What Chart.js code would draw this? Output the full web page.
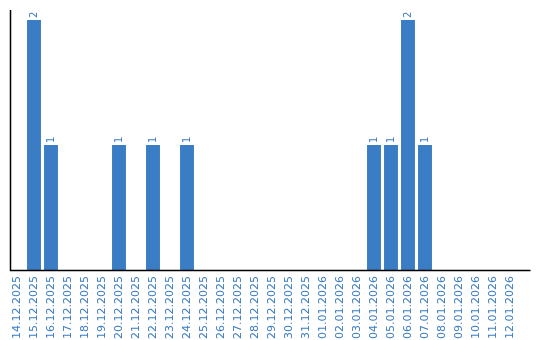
<!DOCTYPE html>
<html>
<head>
<meta charset="utf-8">
<script src="https://cdn.jsdelivr.net/npm/chart.js@4"></script>
<style>
  html, body { margin: 0; padding: 0; background: #fff; }
  #wrap { width: 540px; height: 340px; }
</style>
</head>
<body>
<div id="wrap"><canvas id="chart"></canvas></div>
<script>
// dates
const labels = [
  "14.12.2025", "15.12.2025", "16.12.2025", "17.12.2025", "18.12.2025",
  "19.12.2025", "20.12.2025", "21.12.2025", "22.12.2025", "23.12.2025",
  "24.12.2025", "25.12.2025", "26.12.2025", "27.12.2025", "28.12.2025",
  "29.12.2025", "30.12.2025", "31.12.2025", "01.01.2026", "02.01.2026",
  "03.01.2026", "04.01.2026", "05.01.2026", "06.01.2026", "07.01.2026",
  "08.01.2026", "09.01.2026", "10.01.2026", "11.01.2026", "12.01.2026"
];
// counts per day
const counts = [
  0, 2, 1, 0, 0, 0, 1, 0, 1, 0,
  1, 0, 0, 0, 0, 0, 0, 0, 0, 0,
  0, 1, 1, 2, 1, 0, 0, 0, 0, 0
];

const blue = "#3b7dc4";

// value labels above bars, rotated
const valueLabels = {
  id: "valueLabels",
  afterDatasetsDraw(chart) {
    const ctx = chart.ctx;
    const meta = chart.getDatasetMeta(0);
    ctx.save();
    ctx.fillStyle = blue;
    ctx.font = "10px 'DejaVu Sans'";
    ctx.textAlign = "left";
    ctx.textBaseline = "middle";
    meta.data.forEach((bar, i) => {
      if (!counts[i]) return;
      ctx.save();
      ctx.translate(bar.x, bar.y - 2);
      ctx.rotate(-Math.PI / 2);
      ctx.fillText(String(counts[i]), 0, 0);
      ctx.restore();
    });
    ctx.restore();
  }
};

// axis lines (the x line runs a bit past the last day)
const axisLines = {
  id: "axisLines",
  afterDraw(chart) {
    const a = chart.chartArea;
    const ctx = chart.ctx;
    const x0 = Math.round(a.left + 1.5) + 0.5;
    const y0 = Math.round(a.bottom) + 0.5;
    ctx.save();
    ctx.strokeStyle = "#000";
    ctx.lineWidth = 1.5;
    ctx.beginPath();
    ctx.moveTo(x0, a.top);
    ctx.lineTo(x0, y0);
    ctx.lineTo(a.right + 12, y0);
    ctx.stroke();
    ctx.restore();
  }
};

new Chart(document.getElementById("chart"), {
  type: "bar",
  data: {
    labels: labels,
    datasets: [{
      data: counts,
      backgroundColor: blue,
      borderWidth: 0,
      categoryPercentage: 1,
      barPercentage: 0.82
    }]
  },
  options: {
    responsive: true,
    maintainAspectRatio: false,
    animation: false,
    layout: { padding: { left: 8.5, right: 21.5, top: 10, bottom: -5 } },
    plugins: {
      legend: { display: false },
      tooltip: { enabled: false }
    },
    scales: {
      x: {
        grid: { display: false, drawTicks: false },
        border: { display: false },
        ticks: {
          color: blue,
          font: { family: "DejaVu Sans", size: 11 },
          minRotation: 90,
          maxRotation: 90,
          autoSkip: false,
          padding: 6
        }
      },
      y: {
        display: false,
        min: 0,
        max: 2.08
      }
    }
  },
  plugins: [valueLabels, axisLines]
});
</script>
</body>
</html>
